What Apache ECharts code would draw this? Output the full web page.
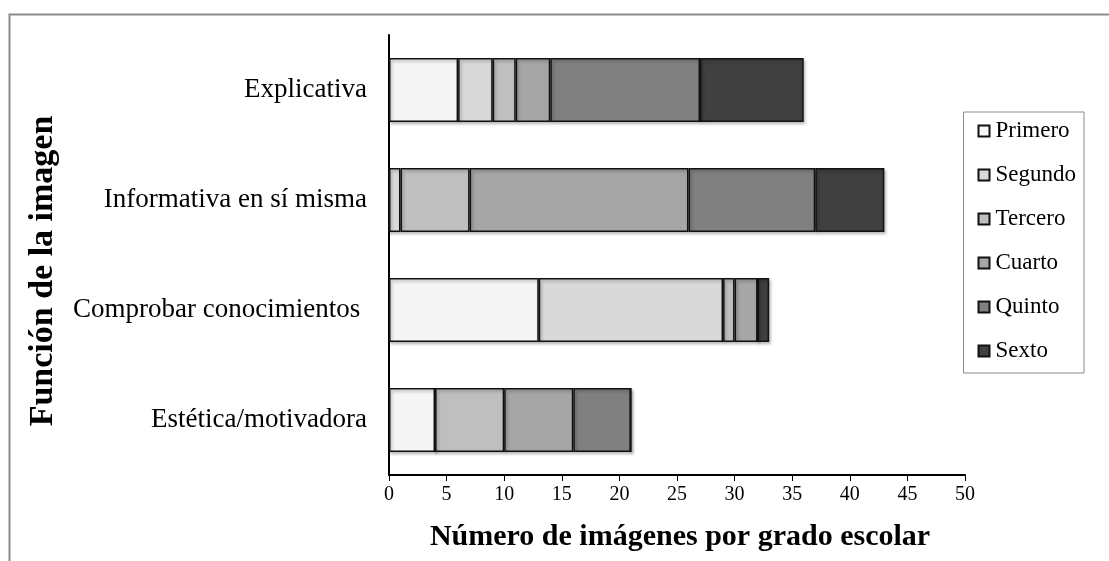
<!DOCTYPE html>
<html>
<head>
<meta charset="utf-8">
<script src="https://cdn.jsdelivr.net/npm/echarts@6/dist/echarts.min.js"></script>
<style>
  html, body { margin: 0; padding: 0; background: #fff; }
  #chart { width: 1109px; height: 561px; }
</style>
</head>
<body>
<div id="chart"></div>
<script>
// Categories (top to bottom as displayed)
const categories = ['Explicativa', 'Informativa en sí misma', 'Comprobar conocimientos ', 'Estética/motivadora'];
const grades = ['Primero', 'Segundo', 'Tercero', 'Cuarto', 'Quinto', 'Sexto'];
const gradeColors = ['#f5f5f5', '#d9d9d9', '#bfbfbf', '#a6a6a6', '#808080', '#404040'];

// Number of images per grade, per category (same order as categories)
const primero = [6, 0, 13, 4];
const segundo = [3, 1, 16, 0];
const tercero = [2, 6, 1, 6];
const cuarto  = [3, 19, 2, 6];
const quinto  = [13, 11, 0, 5];
const sexto   = [9, 6, 1, 0];

const xTicks = [0, 5, 10, 15, 20, 25, 30, 35, 40, 45, 50];

const seriesValues = [primero, segundo, tercero, cuarto, quinto, sexto];
const font = '"Liberation Serif", "Times New Roman", serif';

const chart = echarts.init(document.getElementById('chart'), null, { renderer: 'canvas' });

chart.setOption({
  backgroundColor: '#ffffff',
  animation: false,
  textStyle: { fontFamily: font, color: '#000' },
  graphic: [
    // open frame around the chart (top and left edges)
    { type: 'polyline', shape: { points: [[9.5, 561], [9.5, 14.5], [1109, 14.5]] },
      style: { stroke: '#8c8c8c', lineWidth: 2, fill: null } },
    // vertical axis title
    { type: 'text', x: 43, y: 271, rotation: Math.PI / 2,
      style: { text: 'Función de la imagen', font: 'bold 34px ' + font,
        fill: '#000', align: 'center', verticalAlign: 'middle' } }
  ],
  grid: { left: 389, right: 144, top: 35, bottom: 86, containLabel: false },
  legend: {
    orient: 'vertical',
    right: 25,
    top: 112,
    icon: 'rect',
    itemWidth: 11,
    itemHeight: 11,
    itemGap: 20,
    padding: [7, 8, 10, 14],
    borderColor: '#8c8c8c',
    borderWidth: 1,
    textStyle: { fontFamily: font, fontSize: 23, lineHeight: 24, color: '#000', padding: [0, 0, 0, 1] },
    data: grades
  },
  xAxis: {
    type: 'value',
    min: 0,
    max: 50,
    interval: 5,
    name: 'Número de imágenes por grado escolar',
    nameLocation: 'middle',
    nameGap: 47,
    nameTextStyle: { fontFamily: font, fontSize: 30, fontWeight: 'bold', color: '#000', padding: [0, 0, 0, 6] },
    axisLine: { show: true, lineStyle: { color: '#000', width: 2 } },
    axisTick: { show: true, length: 6, lineStyle: { color: '#000', width: 1 } },
    axisLabel: { fontFamily: font, fontSize: 20, color: '#000', margin: 10,
      formatter: v => xTicks.includes(v) ? String(v) : '' },
    splitLine: { show: false }
  },
  yAxis: {
    type: 'category',
    inverse: true,
    data: categories,
    axisLine: { show: true, lineStyle: { color: '#000', width: 2 } },
    axisTick: { show: false },
    axisLabel: { fontFamily: font, fontSize: 27, color: '#000', margin: 22 }
  },
  series: grades.map((g, i) => ({
    name: g,
    type: 'bar',
    stack: 'total',
    barCategoryGap: '42%',
    data: seriesValues[i],
    itemStyle: {
      color: gradeColors[i],
      borderColor: '#111',
      borderWidth: 1.5,
      shadowColor: 'rgba(0,0,0,0.3)',
      shadowBlur: 3,
      shadowOffsetX: 1.5,
      shadowOffsetY: 2
    }
  }))
});
</script>
</body>
</html>
